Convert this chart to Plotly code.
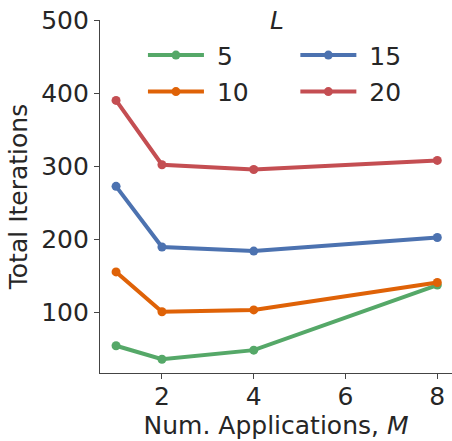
import plotly.graph_objects as go

M = [1, 2, 4, 8]
L_labels = ["5", "10", "15", "20"]
iters_5 = [54.5, 36, 48.5, 137.5]
iters_10 = [155.5, 101, 103.5, 141]
iters_15 = [272.5, 189.5, 184, 202.5]
iters_20 = [390, 302, 295.5, 308]
colors = ["#55A868", "#DF6207", "#4C72B0", "#C44E52"]
series = [iters_5, iters_10, iters_15, iters_20]
legend_ids = ["legend", "legend", "legend2", "legend2"]

FONT = "DejaVu Sans"
TXT = "#262626"
FS = 25

fig = go.Figure()
for lab, ys, c, lg in zip(L_labels, series, colors, legend_ids):
    fig.add_trace(go.Scatter(
        x=M, y=ys, name=" " + lab, mode="lines+markers",
        line=dict(color=c, width=4),
        marker=dict(color=c, size=9),
        legend=lg, legendgroup=lab,
    ))

leg_common = dict(
    orientation="v", yanchor="top", xanchor="left",
    itemwidth=56, tracegroupgap=1,
    bgcolor="rgba(0,0,0,0)",
    font=dict(family=FONT, size=FS, color=TXT),
)

fig.update_layout(
    width=452, height=441,
    margin=dict(l=100, r=0, t=20, b=68),
    plot_bgcolor="white", paper_bgcolor="white",
    font=dict(family=FONT, size=FS, color=TXT),
    showlegend=True,
    legend=dict(x=0.122, y=0.965, **leg_common),
    legend2=dict(x=0.555, y=0.965, **leg_common),
    annotations=[dict(
        text="<i>L</i>", x=0.502, y=1.0, xref="paper", yref="paper",
        xanchor="center", yanchor="middle", showarrow=False,
        font=dict(family=FONT, size=FS, color=TXT),
    )],
)
fig.update_xaxes(
    range=[0.65, 8.32],
    tickvals=[2, 4, 6, 8],
    showgrid=False, zeroline=False,
    showline=True, linecolor="#444", linewidth=1.3,
    ticks="outside", ticklen=5, tickwidth=1.3, tickcolor="#444",
    ticklabelstandoff=-4,
    tickfont=dict(family=FONT, size=FS, color=TXT),
    title=dict(text="Num. Applications, <i>M</i>", standoff=0,
               font=dict(family=FONT, size=FS, color=TXT)),
)
fig.update_yaxes(
    range=[17.25, 500],
    tickvals=[100, 200, 300, 400, 500],
    showgrid=False, zeroline=False,
    showline=True, linecolor="#444", linewidth=1.3,
    ticks="outside", ticklen=5, tickwidth=1.3, tickcolor="#444",
    tickfont=dict(family=FONT, size=FS, color=TXT),
    title=dict(text="Total Iterations", standoff=6,
               font=dict(family=FONT, size=FS, color=TXT)),
)

fig.write_html("out.html")
